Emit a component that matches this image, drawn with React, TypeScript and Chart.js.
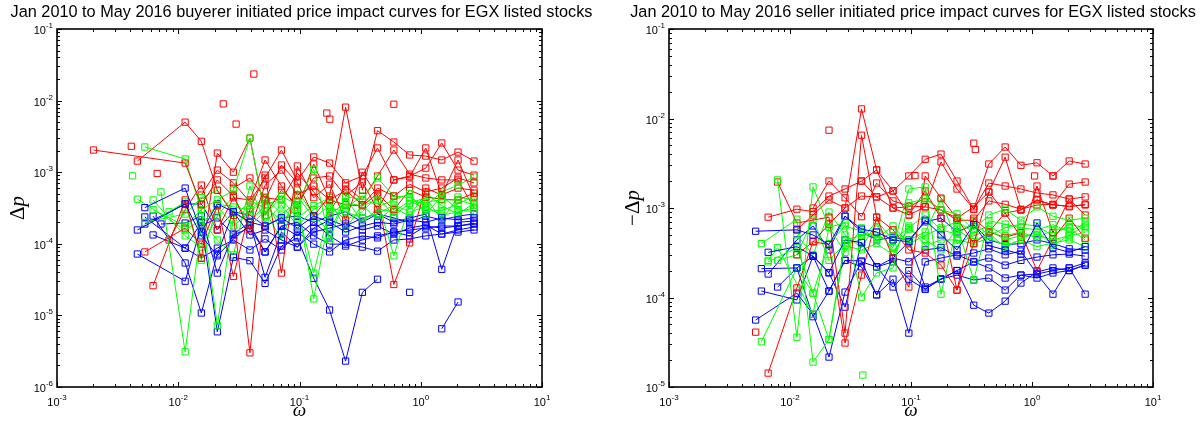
import React, { useEffect, useRef } from "react";
import { Chart, registerables } from "chart.js";

Chart.register(...registerables);

const _ = null;
type Series = (number | null)[];
type Pt = [number, number];

const RED = "#ff0000";
const GREEN = "#00ff00";
const BLUE = "#0000ff";

// ---------- buyer initiated trades (left panel) ----------
const OMEGA_BUY = [0.002, 0.0041, 0.0046, 0.0053, 0.0062, 0.0072, 0.0084, 0.0114, 0.0155, 0.021, 0.0285, 0.039, 0.052, 0.071, 0.096, 0.131, 0.177, 0.24, 0.33, 0.44, 0.6, 0.81, 1.1, 1.49, 2.03, 2.75];

const BUY_RED: Series[] = [
  [2.04e-3, _, _, _, _, _, _, 1.34e-3, 3.5e-4, 7.8e-4, 4.65e-4, 1.56e-4, 6.6e-4, 1.07e-3, 4.8e-4, 6.4e-4, 4.1e-4, 5.6e-4, 3.5e-4, 6.0e-4, 4.65e-4, 6.8e-4, 5.3e-4, 6.0e-4, 8.3e-4, 7.1e-4],
  [_, _, 1.43e-3, _, _, _, _, 5.0e-3, 2.7e-3, 5.6e-4, 2.5e-4, 3.0e-6, 4.1e-4, 1.26e-3, 7.1e-4, 2.44e-4, 4.65e-4, 8.1e-3, 5.6e-4, 3.8e-3, 2.64e-3, 1.74e-3, 1.68e-3, 1.48e-3, 1.91e-3, 1.43e-3],
  [_, _, _, _, 2.6e-5, _, _, 4.1e-4, 6.3e-5, 1.85e-3, 1.0e-3, 3.0e-3, 2.5e-4, 5.6e-4, 3.5e-4, 8.3e-4, 8.85e-4, 4.65e-4, 7.3e-4, 3.0e-4, 7.8e-4, 8.85e-4, 1.14e-3, 2.56e-3, 1.07e-3, 9.1e-4],
  [_, _, _, 7.7e-5, _, _, _, 1.66e-4, 9.9e-5, 3.4e-4, 3.5e-5, 3.0e-4, 9.1e-4, 3.9e-5, 1.22e-3, 4.4e-4, 6.8e-4, 2.15e-4, 1.0e-3, 4.65e-4, 2.7e-5, 1.03e-4, 6.0e-4, 4.8e-4, 6.0e-4, 5.6e-4],
  [_, _, _, _, _, _, 1.13e-4, 3.0e-4, 6.6e-4, 1.56e-4, 4.4e-4, 4.1e-4, 1.48e-3, 6.4e-4, 3.0e-4, 1.3e-3, 4.1e-4, 3.5e-4, 3.4e-4, 5.0e-4, 3.0e-4, 5.6e-4, 4.5e-4, 4.2e-4, 4.1e-4, 5.1e-4],
  [_, _, _, _, _, _, _, _, 4.8e-4, 1.07e-3, 7.1e-4, 3.84e-4, 8.3e-4, 2.04e-3, 7.5e-4, 1.63e-3, 1.34e-3, 7.1e-4, 8.85e-4, 2.18e-3, 7.8e-4, 8.6e-4, 2.18e-3, 4.8e-4, 1.48e-3, 4.5e-4],
  [_, _, _, _, _, _, _, _, _, _, 6.0e-4, 8.3e-4, 4.4e-4, 4.1e-4, 9.7e-4, 5.3e-4, 2.8e-4, 6.4e-4, 4.1e-4, 8.85e-4, 2.04e-3, 9.4e-4, 8.3e-4, 7.8e-4, 7.8e-4, 3.16e-4],
];

const BUY_GREEN: Series[] = [
  [_, _, _, 2.25e-3, _, _, _, 1.53e-3, 3.0e-4, 4.1e-4, 5.6e-4, 3.0e-3, 2.5e-4, 4.65e-4, 3.5e-4, 1.1e-3, 1.13e-4, 4.65e-4, 4.1e-4, 8.3e-4, 4.65e-4, 4.4e-4, 3.4e-4, 5.3e-4, 6.6e-4, 8.6e-4],
  [_, _, _, _, _, 5.3e-4, _, 3.1e-6, 1.77e-4, 3.6e-4, 3.27e-4, 3.0e-4, 4.5e-4, 2.6e-4, 3.84e-4, 1.7e-5, 2.6e-4, 3.7e-4, 3.4e-4, 4.1e-4, 6.8e-5, 3.6e-4, 3.84e-4, 4.1e-4, 4.1e-4, 3.5e-4],
  [_, _, _, _, 3.0e-4, _, _, 1.77e-4, 3.0e-4, 7.3e-6, 2.3e-4, 4.0e-4, 3.16e-4, 2.15e-4, 3.0e-4, 3.9e-5, 3.16e-4, 2.8e-4, 2.3e-4, 2.6e-4, 3.5e-4, 2.8e-4, 3.27e-4, 2.5e-4, 2.8e-4, 3.16e-4],
  [_, _, _, 2.0e-4, _, _, _, 2.6e-4, 4.4e-4, 5.6e-4, 2.7e-4, 2.0e-4, 3.5e-4, 4.2e-4, 2.3e-4, 3.4e-4, 4.4e-4, 3.16e-4, 4.65e-4, 3.27e-4, 4.1e-4, 5.0e-4, 2.6e-4, 4.65e-4, 3.0e-4, 2.8e-4],
  [_, _, _, _, 4.1e-4, _, _, 1.29e-4, 9.0e-5, 2.44e-4, 4.65e-4, 1.77e-4, 2.9e-4, 1.13e-4, 4.65e-4, 2.3e-4, 3.4e-4, 2.15e-4, 2.8e-4, 4.65e-4, 2.44e-4, 3.7e-4, 4.4e-4, 2.15e-4, 4.5e-4, 4.1e-4],
  [_, _, 4.2e-4, _, _, _, _, 1.56e-4, 2.15e-4, 1.13e-4, 7.0e-5, 6.4e-4, 2.0e-4, 3.5e-4, 1.77e-4, 3.0e-4, 4.0e-4, 1.61e-4, 3.5e-4, 2.15e-4, 3.16e-4, 2.44e-4, 5.1e-4, 3.4e-4, 2.6e-4, 3.7e-4],
  [_, _, _, _, _, _, 2.8e-4, 3.84e-4, 5.9e-5, 3.4e-4, 1.77e-4, 2.8e-4, 4.2e-4, 1.5e-4, 5.6e-4, 2.5e-4, 1.46e-4, 4.4e-4, 2.0e-4, 3.06e-4, 2.8e-4, 4.0e-4, 3.0e-4, 2.9e-4, 3.6e-4, 4.65e-4],
];

const BUY_BLUE: Series[] = [
  [_, _, _, 3.2e-4, _, _, _, 6.0e-4, 1.46e-4, 3.6e-4, 2.8e-4, 2.0e-4, 1.77e-4, 2.3e-4, 1.66e-4, 2.44e-4, 2.0e-4, 1.46e-4, 1.77e-4, 2.0e-4, 1.89e-4, 2.15e-4, 2.0e-4, 2.3e-4, 2.15e-4, 2.3e-4],
  [_, _, 1.56e-4, _, _, _, _, 3.6e-4, 1.29e-4, 6.8e-5, 1.17e-4, 1.83e-4, 7.7e-5, 1.77e-4, 1.29e-4, 2.0e-4, 1.29e-4, 9.3e-5, 1.13e-4, 1.29e-4, 1.46e-4, 1.56e-4, 1.66e-4, 1.77e-4, 1.77e-4, 1.95e-4],
  [_, _, _, _, 2.44e-4, _, _, 5.4e-5, 1.08e-5, 7.2e-5, 2.8e-4, 1.33e-4, 1.56e-4, 1.13e-4, 9.0e-5, 1.46e-4, 1.66e-4, 1.89e-4, 1.56e-4, 1.77e-4, 1.37e-4, 1.66e-4, 1.83e-4, 1.37e-4, 1.56e-4, 1.72e-4],
  [_, _, _, 2.37e-4, _, _, _, 8.7e-5, 2.0e-4, 5.9e-6, 6.5e-5, 5.8e-5, 2.8e-5, 9.3e-5, 1.21e-4, 3.3e-5, 1.19e-5, 2.3e-6, 2.1e-5, 3.2e-5, _, _, _, _, _, _],
  [_, _, 7.2e-5, _, _, _, _, 3.0e-5, 1.77e-4, 2.3e-4, 1.33e-4, 1.66e-4, 7.7e-5, 1.77e-4, 2.0e-4, 1.29e-4, 9.9e-5, 9.9e-5, 9.0e-5, 7.9e-5, 1.13e-4, 1.17e-4, 1.29e-4, 1.37e-4, 1.46e-4, 1.56e-4],
  [_, _, _, _, _, 1.89e-4, _, 1.95e-4, 2.44e-4, 3.9e-5, 1.37e-4, 2.0e-4, 3.4e-5, 1.46e-4, 9.0e-5, 1.66e-4, 2.15e-4, 1.77e-4, 2.29e-4, 2.61e-4, 2.0e-4, 2.29e-4, 2.61e-4, 4.4e-5, 2.0e-4, 2.08e-4],
  [_, _, _, _, 1.33e-4, _, _, 8.7e-5, 6.3e-5, 8.7e-5, 1.13e-4, 8.2e-5, 1.17e-4, 8.2e-5, 1.46e-4, 9.9e-5, 7.7e-5, 1.13e-4, 1.29e-4, 1.21e-4, 1.46e-4, 1.29e-4, 1.77e-4, 1.66e-4, 1.77e-4, 1.89e-4],
  [_, _, _, 1.89e-4, _, _, _, 3.6e-4, 3.6e-4, 1.56e-4, 2.8e-4, 2.52e-4, 1.77e-4, 2.3e-4, 2.44e-4, 2.0e-4, 2.44e-4, 2.8e-4, 2.0e-4, 2.61e-4, 2.3e-4, 2.0e-4, 2.44e-4, 2.15e-4, 2.44e-4, 2.61e-4],
];

const BUY_BLUE_TAIL: Pt[] = [[1.49, 6.5e-6], [2.03, 1.54e-5]];
const BUY_RED_SINGLE: Pt[] = [[0.0041, 2.3e-3], [0.0067, 9.6e-4], [0.0235, 9.0e-3], [0.03, 4.7e-3], [0.042, 2.35e-2], [0.168, 6.7e-3], [0.178, 5.5e-3], [0.6, 8.9e-3]];
const BUY_GREEN_SINGLE: Pt[] = [[0.0042, 8.9e-4]];
const BUY_BLUE_SINGLE: Pt[] = [[0.81, 2.1e-5]];

// ---------- seller initiated trades (right panel) ----------
const OMEGA_SELL = [0.0052, 0.0058, 0.0066, 0.0079, 0.0114, 0.0155, 0.021, 0.0285, 0.039, 0.052, 0.071, 0.096, 0.131, 0.177, 0.24, 0.33, 0.44, 0.6, 0.81, 1.1, 1.49, 2.03, 2.75];

const SELL_RED: Series[] = [
  [_, _, 7.9e-4, _, 9.7e-4, 9.1e-4, 1.36e-3, 1.63e-3, 2.0e-3, 1.33e-3, 1.55e-3, 2.28e-3, 3.5e-3, 4.0e-3, 2.0e-3, 9.7e-4, 3.1e-3, 4.8e-3, 3.0e-3, 3.2e-3, 2.28e-3, 3.35e-3, 3.1e-3],
  [_, _, 1.43e-5, _, 1.28e-4, 4.2e-4, 6.6e-4, 1.0e-3, 1.28e-2, 2.66e-3, 1.0e-3, 8.35e-4, 1.03e-3, 3.27e-3, 1.63e-3, 9.7e-4, 1.9e-3, 1.76e-3, 1.63e-3, 1.47e-3, 1.4e-3, 1.26e-3, 1.33e-3],
  [_, _, _, 1.95e-3, 6.8e-4, _, 7.9e-4, 4.0e-5, 6.5e-3, 7.9e-4, 2.76e-4, 1.31e-4, 2.28e-3, 1.29e-3, 7.7e-4, 4.0e-4, 1.51e-3, 3.7e-3, 9.5e-4, 1.23e-3, 1.08e-3, 1.05e-3, 1.08e-3],
  [_, _, _, _, 3.0e-4, 4.2e-4, 3.9e-4, 3.1e-5, 1.78e-4, 7.9e-4, 5.7e-4, 3.4e-4, 3.14e-4, 2.3e-4, 1.21e-4, 7.7e-4, 5.4e-4, 4.7e-4, 5.3e-4, 2.0e-4, 4.5e-4, 7.7e-4, 4.6e-4],
  [_, _, _, _, 5.7e-4, 8.35e-4, 1.23e-3, 1.0e-3, 1.36e-3, 1.33e-3, 1.0e-3, 1.03e-3, 1.29e-3, 9.5e-4, 7.7e-4, 1.03e-3, 1.51e-3, 8.8e-4, 9.5e-4, 1.23e-3, 1.08e-3, 1.85e-3, 1.95e-3],
  [_, _, _, _, _, _, _, _, 2.0e-3, 2.66e-3, 1.55e-3, 8.35e-4, 1.55e-3, 7.7e-4, 1.21e-4, 4.0e-4, 5.4e-4, 8.8e-4, 4.7e-4, 1.76e-3, 5.3e-4, 1.26e-3, 8.35e-4],
  [_, _, _, _, _, 1.0e-3, 2.0e-3, 1.3e-3, 8.0e-4, 1.9e-3, 1.2e-3, 1.05e-3, 1.03e-3, 9.5e-4, 7.3e-4, 7.3e-4, 1.2e-3, 1.1e-3, 9.7e-4, 1.08e-3, 1.1e-3, 1.03e-3, 1.1e-3],
];

const SELL_GREEN: Series[] = [
  [_, _, _, 2.06e-3, 3.6e-5, 1.72e-3, 6.1e-4, 6.8e-4, 1.01e-4, 1.88e-4, 2.14e-4, 1.14e-3, 1.26e-3, 9.5e-4, 8.6e-4, 5.7e-4, 8.35e-4, 9.7e-4, 7.3e-4, 1.03e-3, 8.1e-4, 7.3e-4, 7.7e-4],
  [_, 4.0e-4, _, _, 7.5e-4, 1.9e-5, 3.4e-5, 4.4e-4, 4.9e-4, 5.3e-4, 3.6e-4, 1.63e-3, 1.72e-3, 1.09e-4, 6.3e-4, 1.57e-4, 7.2e-4, 6.6e-4, 6.0e-4, 5.7e-4, 6.5e-4, 5.4e-4, 6.8e-4],
  [_, _, 2.6e-4, 3.6e-4, _, 6.5e-5, 6.1e-4, 3.2e-4, 6.0e-4, 4.4e-4, 5.3e-4, 4.4e-4, 5.4e-4, 1.26e-3, 4.0e-4, 4.9e-4, 5.7e-4, 4.4e-4, 4.9e-4, 5.0e-4, 4.4e-4, 4.9e-4, 5.3e-4],
  [_, 3.2e-5, _, _, 2.14e-4, 1.12e-4, 3.4e-5, 3.8e-4, 3.4e-4, 4.0e-4, 3.0e-4, 6.3e-4, 3.8e-4, 4.4e-4, 4.4e-4, 4.0e-4, 4.6e-4, 3.8e-4, 4.4e-4, 3.7e-4, 4.06e-4, 4.4e-4, 3.7e-4],
  [_, _, 2.5e-4, _, 3.6e-4, 1.12e-4, 4.0e-4, 6.3e-4, 5.5e-4, 4.6e-4, 6.3e-4, 4.0e-4, 4.9e-4, 6.0e-4, 7.0e-4, 5.4e-4, 6.3e-4, 4.9e-4, 5.4e-4, 4.6e-4, 5.7e-4, 6.0e-4, 4.4e-4],
  [_, _, _, 2.6e-4, 3.0e-4, 7.5e-4, 2.6e-4, 4.0e-4, 4.4e-4, 7.2e-4, 4.4e-4, 6.0e-4, 8.35e-4, 5.7e-4, 5.1e-4, 7.0e-4, 4.9e-4, 6.0e-4, 6.6e-4, 6.3e-4, 4.9e-4, 6.6e-4, 6.0e-4],
  [_, _, _, _, 5.0e-4, 3.0e-4, 9.0e-4, 5.0e-4, 3.6e-4, 6.8e-4, 3.2e-4, 5.8e-4, 4.4e-4, 3.4e-4, 5.8e-4, 4.2e-4, 5.3e-4, 3.6e-4, 4.5e-4, 5.5e-4, 3.8e-4, 5.0e-4, 6.3e-4],
];

const SELL_BLUE: Series[] = [
  [5.5e-4, _, _, _, 5.7e-4, 5.0e-4, 3.9e-4, 8.1e-4, 5.8e-4, 5.4e-4, 4.4e-4, 4.2e-4, 7.3e-4, 5.0e-4, 3.4e-4, 6.5e-4, 3.8e-4, 3.4e-4, 3.06e-4, 6.8e-4, 3.6e-4, 3.2e-4, 3.7e-4],
  [_, _, 3.2e-4, _, 3.7e-4, 2.9e-4, 1.9e-4, 4.4e-4, 4.1e-4, 2.2e-4, 2.5e-4, 1.6e-4, 1.24e-4, 1.6e-4, 2.0e-4, 2.5e-4, 2.14e-4, 1.65e-4, 1.78e-4, 1.83e-4, 2.0e-4, 2.14e-4, 2.43e-4],
  [_, 2.1e-4, _, _, 2.14e-4, 6.1e-5, 1.18e-4, 2.6e-4, 2.56e-4, 1.07e-4, 1.6e-4, 4.0e-5, 2.5e-4, 2.76e-4, 3.0e-4, 2.5e-4, 2.76e-4, 2.3e-4, 2.6e-4, 2.83e-4, 3.0e-4, 3.06e-4, 2.9e-4],
  [5.6e-5, _, _, _, 1.12e-4, 6.5e-5, 2.16e-5, 1.15e-4, 2.5e-4, 2.2e-4, 1.31e-4, 2.0e-4, 1.24e-4, 1.61e-4, 2.0e-4, 8.2e-5, 6.7e-5, 9.1e-5, 1.45e-4, 1.93e-4, 2.14e-4, 2.0e-4, 2.3e-4],
  [_, _, _, 1.31e-4, 2.14e-4, 2.9e-4, 1.88e-4, 7.8e-5, 4.1e-4, 2.2e-4, 2.76e-4, 2.5e-4, 3.4e-4, 3.6e-4, 2.9e-4, 3.14e-4, 3.5e-4, 3.0e-4, 3.3e-4, 1.83e-4, 1.09e-4, 2.14e-4, 1.09e-4],
  [_, 1.18e-4, _, _, 9.4e-5, 2.9e-4, 1.18e-4, 2.6e-4, 2.2e-4, 1.07e-4, 2.76e-4, 4.2e-4, 1.31e-4, 1.61e-4, 1.78e-4, 1.57e-4, 1.65e-4, 1.21e-4, 1.78e-4, 1.65e-4, 1.88e-4, 2.0e-4, 2.3e-4],
  [_, _, 1.83e-4, _, 4.4e-4, 6.3e-4, 3.4e-4, 8.1e-4, 5.4e-4, 4.4e-4, 4.7e-4, 4.4e-4, 7.0e-4, 7.7e-4, 5.4e-4, 6.5e-4, 4.4e-4, 3.9e-4, 4.0e-4, 4.4e-4, 4.0e-4, 3.5e-4, 3.4e-4],
];

const SELL_RED_SINGLE: Pt[] = [[0.0052, 4.1e-5], [0.021, 7.4e-3], [0.108, 2.3e-3], [0.33, 5.3e-3], [0.34, 4.5e-3], [1.05, 2.28e-3], [1.49, 2.28e-3]];
const SELL_GREEN_SINGLE: Pt[] = [[0.04, 1.36e-5]];

const TITLE_BUY = "Jan 2010 to May 2016 buyerer initiated price impact curves for EGX listed stocks";
const TITLE_SELL = "Jan 2010 to May 2016 seller initiated price impact curves for EGX listed stocks";

// ---------- dataset helpers ----------
function styled(data: { x: number; y: number }[], color: string, showLine: boolean) {
  return {
    data,
    showLine,
    spanGaps: true,
    borderColor: color,
    borderWidth: 1,
    backgroundColor: "rgba(0,0,0,0)",
    pointStyle: "rect",
    pointRadius: 4.4,
    pointHoverRadius: 4.4,
    pointBorderWidth: 1,
    pointBorderColor: color,
    pointBackgroundColor: "rgba(0,0,0,0)",
    tension: 0,
  };
}

function fromGrid(grid: number[], ys: Series, color: string) {
  const pts: { x: number; y: number }[] = [];
  ys.forEach((y, i) => {
    if (y !== null) pts.push({ x: grid[i], y });
  });
  return styled(pts, color, true);
}

function fromPairs(pairs: Pt[], color: string, showLine: boolean) {
  return styled(pairs.map(([x, y]) => ({ x, y })), color, showLine);
}

function buildSets(grid: number[], red: Series[], green: Series[], blue: Series[]) {
  const out: any[] = [];
  const n = Math.max(red.length, green.length, blue.length);
  for (let i = 0; i < n; i++) {
    if (red[i]) out.push(fromGrid(grid, red[i], RED));
    if (green[i]) out.push(fromGrid(grid, green[i], GREEN));
    if (blue[i]) out.push(fromGrid(grid, blue[i], BLUE));
  }
  return out;
}

// ---------- axes, ticks and labels drawn in MATLAB style ----------
type PanelCfg = {
  title: string;
  yMinExp: number;
  yLabel: { text: string; italic: boolean }[];
  yLabelX: number;
  padding: { left: number; right: number; top: number; bottom: number };
  datasets: any[];
};

const SANS = '"Liberation Sans", Arial, Helvetica, sans-serif';
const SERIF = '"Liberation Serif", "Times New Roman", serif';

function framePlugin(cfg: PanelCfg) {
  return {
    id: "matlabFrame",
    afterDraw(chart: any) {
      const { ctx, chartArea: a, scales } = chart;
      const xs = scales.x;
      const ys = scales.y;
      ctx.save();
      ctx.strokeStyle = "#000";
      ctx.fillStyle = "#000";
      ctx.lineWidth = 1;

      const seg = (x1: number, y1: number, x2: number, y2: number) => {
        ctx.beginPath();
        ctx.moveTo(x1, y1);
        ctx.lineTo(x2, y2);
        ctx.stroke();
      };

      // x ticks (bottom and top, pointing inward)
      for (let e = -3; e <= 1; e++) {
        for (let m = 1; m <= 9; m++) {
          const v = m * Math.pow(10, e);
          if (v > 10.0001) break;
          const px = Math.round(xs.getPixelForValue(v)) + 0.5;
          const len = m === 1 ? 5 : 3;
          seg(px, a.bottom, px, a.bottom - len);
          seg(px, a.top, px, a.top + len);
        }
      }
      // y ticks (left and right, pointing inward)
      for (let e = cfg.yMinExp; e <= -1; e++) {
        for (let m = 1; m <= 9; m++) {
          const v = m * Math.pow(10, e);
          if (v > 0.10001) break;
          const py = Math.round(ys.getPixelForValue(v)) + 0.5;
          const len = m === 1 ? 5 : 3;
          seg(a.left, py, a.left + len, py);
          seg(a.right, py, a.right - len, py);
        }
      }

      // box
      ctx.lineWidth = 1.6;
      ctx.strokeRect(a.left, a.top, a.right - a.left, a.bottom - a.top);

      // power-of-ten tick labels
      const big = `11px ${SANS}`;
      const small = `8px ${SANS}`;
      ctx.textAlign = "left";
      ctx.textBaseline = "alphabetic";
      const widths = (exp: string) => {
        ctx.font = big;
        const w1 = ctx.measureText("10").width;
        ctx.font = small;
        const w2 = ctx.measureText(exp).width;
        return [w1, w2];
      };
      for (let e = -3; e <= 1; e++) {
        const exp = String(e);
        const [w1, w2] = widths(exp);
        const t = xs.getPixelForValue(Math.pow(10, e));
        const start = t - (w1 + w2) / 2;
        ctx.font = big;
        ctx.fillText("10", start, a.bottom + 19);
        ctx.font = small;
        ctx.fillText(exp, start + w1, a.bottom + 13);
      }
      for (let e = cfg.yMinExp; e <= -1; e++) {
        const exp = String(e);
        const [w1, w2] = widths(exp);
        const t = ys.getPixelForValue(Math.pow(10, e));
        const start = a.left - 4 - (w1 + w2);
        ctx.font = big;
        ctx.fillText("10", start, t + 5);
        ctx.font = small;
        ctx.fillText(exp, start + w1, t - 1);
      }

      const cx = (a.left + a.right) / 2;

      // title
      ctx.font = `16.3px ${SANS}`;
      ctx.textAlign = "center";
      ctx.fillText(cfg.title, cx + 2, 17);

      // x axis label
      ctx.font = `italic 19px ${SERIF}`;
      ctx.fillText("\u03c9", cx, 416);

      // y axis label, rotated
      ctx.save();
      ctx.translate(cfg.yLabelX, (a.top + a.bottom) / 2);
      ctx.rotate(-Math.PI / 2);
      ctx.textAlign = "left";
      const fontOf = (it: boolean) => `${it ? "italic " : ""}21px ${SERIF}`;
      let total = 0;
      for (const p of cfg.yLabel) {
        ctx.font = fontOf(p.italic);
        total += ctx.measureText(p.text).width;
      }
      let x0 = -total / 2;
      for (const p of cfg.yLabel) {
        ctx.font = fontOf(p.italic);
        ctx.fillText(p.text, x0, 0);
        x0 += ctx.measureText(p.text).width;
      }
      ctx.restore();

      ctx.restore();
    },
  };
}

function Panel({ left, width, cfg }: { left: number; width: number; cfg: PanelCfg }) {
  const ref = useRef<HTMLCanvasElement>(null);
  useEffect(() => {
    const chart = new Chart(ref.current as HTMLCanvasElement, {
      type: "scatter",
      data: { datasets: cfg.datasets },
      options: {
        responsive: false,
        animation: false,
        events: [],
        layout: { padding: cfg.padding },
        scales: {
          x: { type: "logarithmic", min: 1e-3, max: 10, display: false },
          y: { type: "logarithmic", min: Math.pow(10, cfg.yMinExp), max: 1e-1, display: false },
        },
        plugins: { legend: { display: false }, tooltip: { enabled: false } },
      } as any,
      plugins: [framePlugin(cfg)],
    });
    return () => chart.destroy();
  }, []);
  return <canvas ref={ref} width={width} height={421} style={{ position: "absolute", left, top: 0 }} />;
}

const buyCfg: PanelCfg = {
  title: TITLE_BUY,
  yMinExp: -6,
  yLabel: [
    { text: "\u0394", italic: false },
    { text: "p", italic: true },
  ],
  yLabelX: 24,
  padding: { left: 57, right: 58, top: 29, bottom: 34 },
  datasets: [
    ...buildSets(OMEGA_BUY, BUY_RED, BUY_GREEN, BUY_BLUE),
    fromPairs(BUY_BLUE_TAIL, BLUE, true),
    fromPairs(BUY_RED_SINGLE, RED, false),
    fromPairs(BUY_GREEN_SINGLE, GREEN, false),
    fromPairs(BUY_BLUE_SINGLE, BLUE, false),
  ],
};

const sellCfg: PanelCfg = {
  title: TITLE_SELL,
  yMinExp: -5,
  yLabel: [
    { text: "\u2212", italic: false },
    { text: "\u0394", italic: false },
    { text: "p", italic: true },
  ],
  yLabelX: 39,
  padding: { left: 69, right: 48, top: 29, bottom: 34 },
  datasets: [
    ...buildSets(OMEGA_SELL, SELL_RED, SELL_GREEN, SELL_BLUE),
    fromPairs(SELL_RED_SINGLE, RED, false),
    fromPairs(SELL_GREEN_SINGLE, GREEN, false),
  ],
};

export default function App() {
  return (
    <div style={{ position: "absolute", left: 0, top: 0, width: 1201, height: 421, background: "#fff", overflow: "hidden" }}>
      <Panel left={0} width={600} cfg={buyCfg} />
      <Panel left={600} width={601} cfg={sellCfg} />
    </div>
  );
}
